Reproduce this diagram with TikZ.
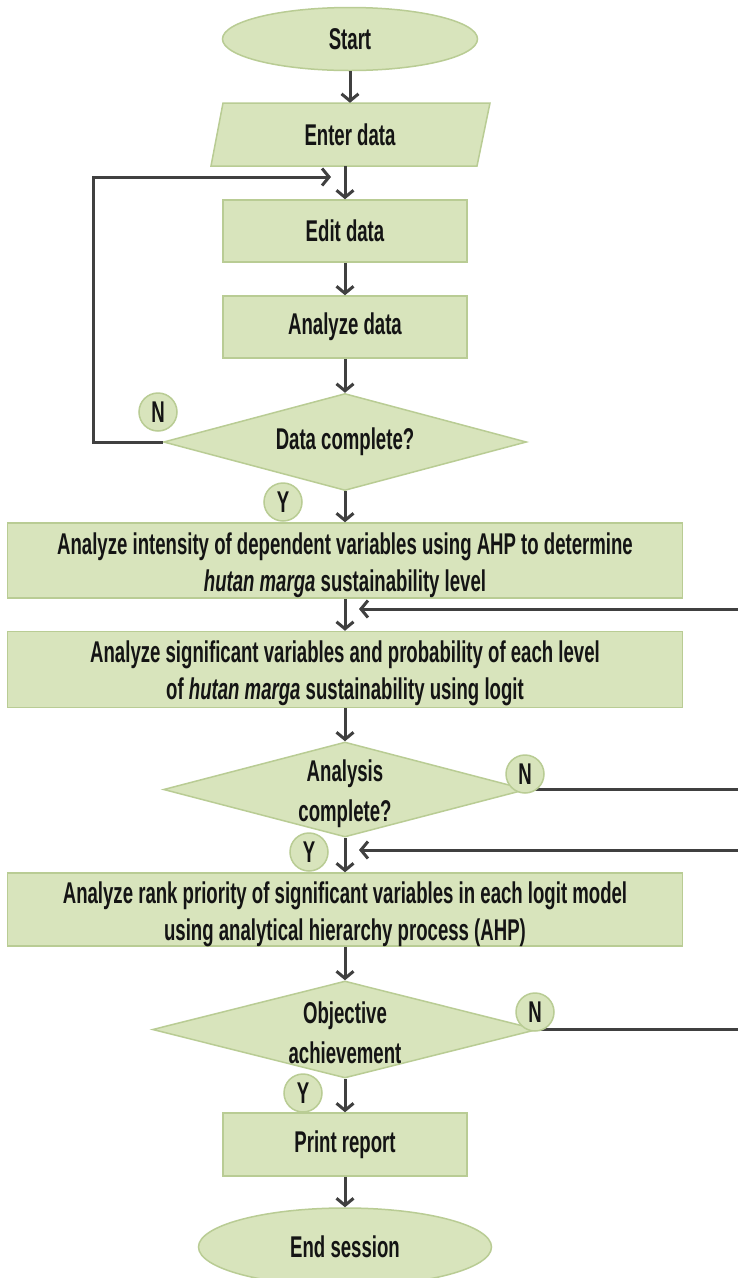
\documentclass[tikz,border=0pt]{standalone}
\usepackage{fontspec}
\setmainfont{Liberation Sans}[FakeStretch=0.62]
\usetikzlibrary{shapes.geometric,arrows.meta}
\definecolor{boxfill}{HTML}{D8E4BC}
\definecolor{boxline}{HTML}{B9CC94}
\definecolor{arrowgray}{HTML}{404040}
\definecolor{txt}{HTML}{141414}
\tikzset{
  labelfont/.style={text=txt, font=\fontsize{30}{37}\selectfont\bfseries, align=center},
  base/.style={fill=boxfill, draw=boxline, line width=1.5pt, labelfont, inner sep=0pt},
  procbox/.style={base, rectangle},
  termbox/.style={base, ellipse},
  decbox/.style={base, diamond},
  dectext/.style={labelfont, inner sep=0pt},
  tag/.style={base, circle, minimum size=38pt},
  flow/.style={draw=arrowgray, line width=3pt, -{Straight Barb[length=7pt,width=17pt]}},
  plain/.style={draw=arrowgray, line width=3.2pt},
}
\begin{document}
\begin{tikzpicture}[x=1pt,y=-1pt]
\useasboundingbox (0,0) rectangle (737,1278);
\fill[white] (0,0) rectangle (737,1278);
% nodes
\node[termbox, minimum width=255pt, minimum height=63pt] (start) at (350,39) {Start};
\filldraw[fill=boxfill, draw=boxline, line width=1.5pt] (223,103) -- (490,103) -- (477,166) -- (211,166) -- cycle;
\node[dectext, minimum width=267pt, minimum height=63pt] (enter) at (350,134.5) {Enter data};
\node[procbox, minimum width=244pt, minimum height=62pt] (edit) at (345,231) {Edit data};
\node[procbox, minimum width=244pt, minimum height=62pt] (analyze) at (345,327) {Analyze data};
\node[decbox, minimum width=363pt, minimum height=97pt] (dc) at (345,442) {};
\node[dectext] (dct) at (dc) {Data complete?};
\node[procbox, minimum width=675pt, minimum height=75pt] (box1) at (345,560.5) {};
\node[dectext] (box1t) at ([yshift=-5pt]box1) {Analyze intensity of dependent variables using AHP to determine\\\textit{hutan marga} sustainability level};
\node[procbox, minimum width=675pt, minimum height=76pt] (box2) at (345,669.5) {};
\node[dectext] (box2t) at ([yshift=-4pt]box2) {Analyze significant variables and probability of each level\\of \textit{hutan marga} sustainability using logit};
\node[decbox, minimum width=363pt, minimum height=95pt] (dc2) at (345,789.5) {};
\node[dectext] (dc2t) at ([yshift=-4pt]dc2) {Analysis\\[3pt]complete?};
\node[procbox, minimum width=675pt, minimum height=73pt] (box3) at (345,909.5) {};
\node[dectext] (box3t) at ([yshift=-5pt]box3) {Analyze rank priority of significant variables in each logit model\\using analytical hierarchy process (AHP)};
\node[decbox, minimum width=385pt, minimum height=97pt] (obj) at (345,1029.5) {};
\node[dectext] (objt) at ([yshift=-3pt]obj) {Objective\\[3pt]achievement};
\node[procbox, minimum width=244pt, minimum height=63pt] (print) at (345,1144.5) {Print report};
\node[termbox, minimum width=293pt, minimum height=78pt] (end) at (345,1247) {End session};
% coordinates
\coordinate (loopcorner) at (93,177);
\coordinate (loopin) at (331,177);
\coordinate (r1) at (740,609);
\coordinate (t1) at (359,609);
\coordinate (r2) at (740,789.5);
\coordinate (r3) at (740,850);
\coordinate (t3) at (359,850);
\coordinate (r4) at (740,1029.5);
% connectors
\draw[flow] (start.south -| enter.north) -- (enter.north);
\draw[flow] (enter.south -| edit.north) -- (edit.north);
\draw[flow] (edit) -- (analyze);
\draw[flow] (analyze) -- (dc);
\draw[flow] (dc) -- (box1);
\draw[flow] (box1) -- (box2);
\draw[flow] (box2) -- (dc2);
\draw[flow] (dc2) -- (box3);
\draw[flow] (box3) -- (obj);
\draw[flow] (obj) -- (print);
\draw[flow] (print) -- (end);
\draw[flow] (dc.west) -| (loopcorner) -- (loopin);
\draw[flow] (r1) -- (t1);
\draw[plain] (dc2.east) -- (r2);
\draw[flow] (r3) -- (t3);
\draw[plain] (obj.east) -- (r4);
% tags
\node[tag] (n1) at (158,412) {N};
\node[tag] (y1) at (283,502) {Y};
\node[tag] (n2) at (525,774) {N};
\node[tag] (y2) at (309,852) {Y};
\node[tag] (n3) at (535,1012) {N};
\node[tag] (y3) at (303,1093) {Y};
\end{tikzpicture}
\end{document}
